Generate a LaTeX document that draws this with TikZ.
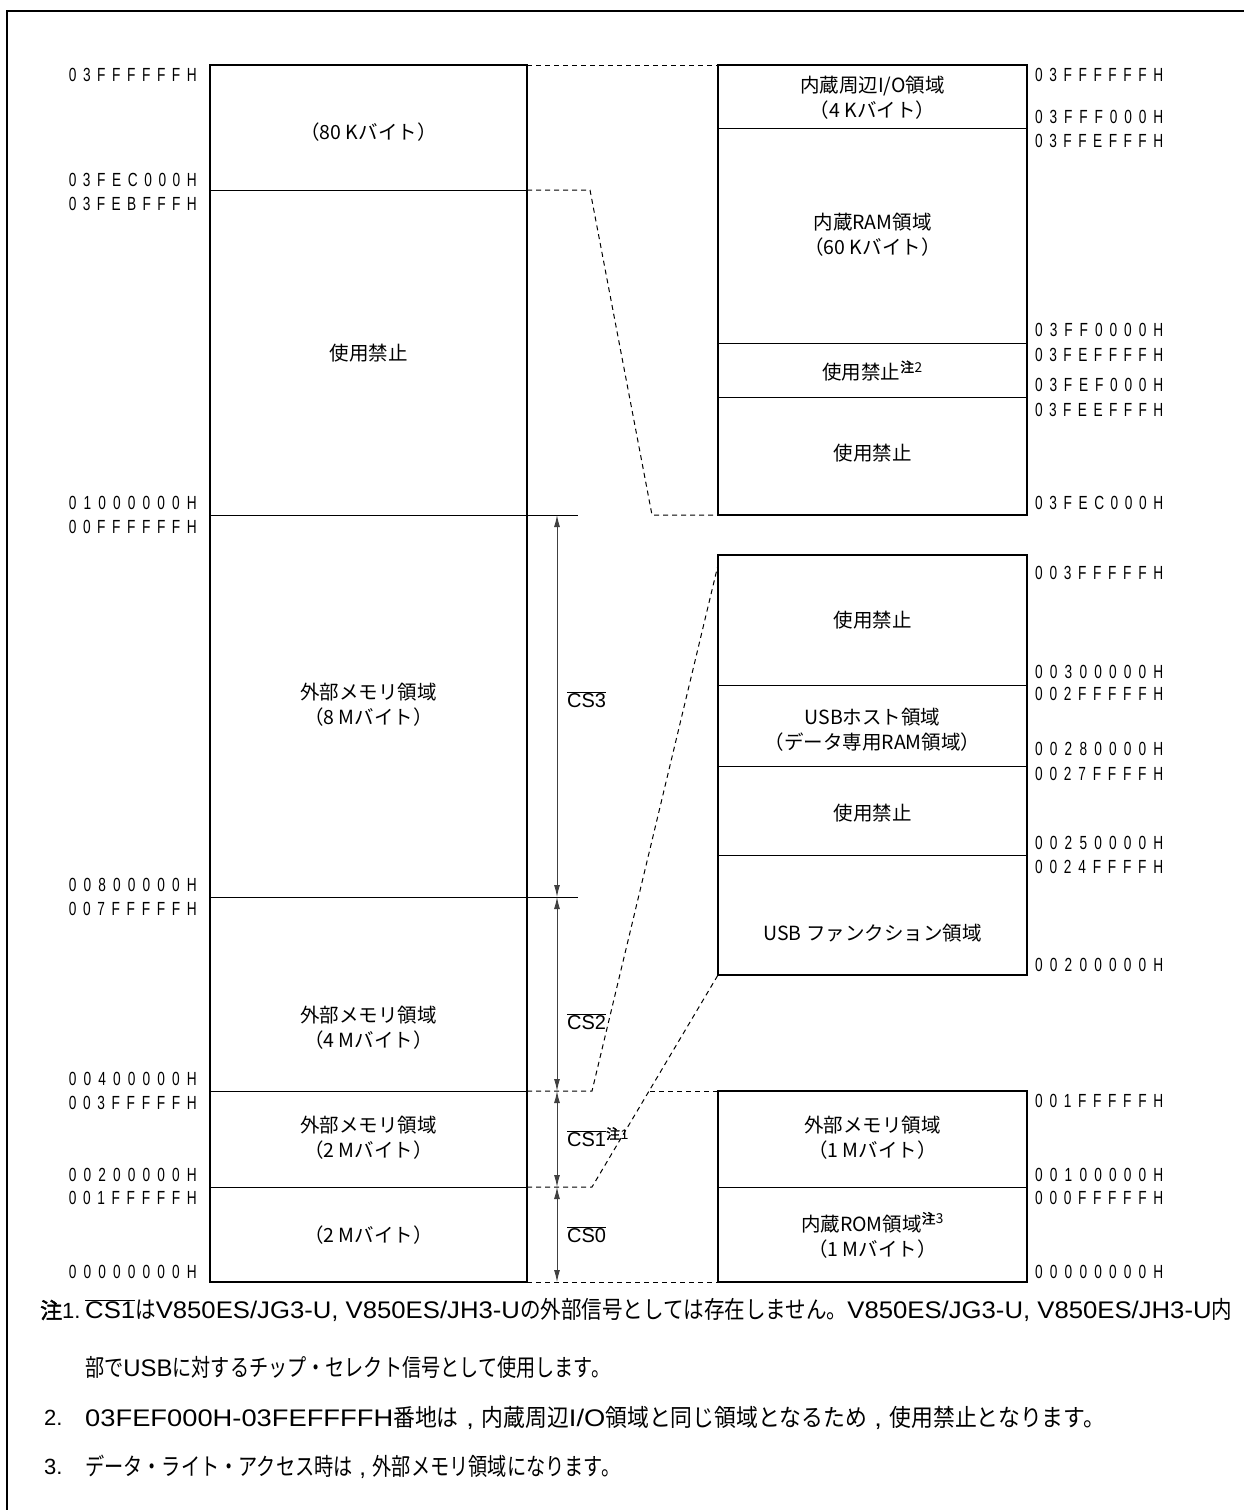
\documentclass[tikz,border=0pt]{standalone}
\usepackage{fontspec}
\usepackage{graphicx}
\setmainfont{Liberation Sans}
\newfontfamily\jp{Noto Sans CJK JP}
\newfontfamily\jpb[FakeBold=2]{Noto Sans CJK JP}
\newfontfamily\lat{Liberation Sans}
\usetikzlibrary{arrows.meta}
\makeatletter
\newcommand\hx[1]{\makebox[128pt][s]{\fontsize{19}{20}\selectfont\expandafter\hx@a#1\relax}}
\def\hx@a#1{\ifx#1\relax\else\scalebox{.72}[1]{#1}\expandafter\hx@b\fi}
\def\hx@b#1{\ifx#1\relax\else\hfill\scalebox{.72}[1]{#1}\expandafter\hx@b\fi}
\makeatother
\newcommand\ovl[1]{$\overline{\mbox{#1}}$}
\newcommand\chu[1]{\textsuperscript{\jpb 注}\textsuperscript{#1}}
% Latin run inside a condensed note line (undo the 0.8 squeeze)
\newcommand\lt[1]{\scalebox{1.25}[1]{\lat #1}}
\newcommand\noteline[2]{\resizebox{#1}{\height}{\scalebox{0.8}[1]{#2}}}
\tikzset{
  frame/.style={line width=1.6pt},
  mapbox/.style={line width=2.2pt},
  divider/.style={line width=0.9pt},
  dashc/.style={line width=1pt, dash pattern=on 5pt off 4pt},
  csarrow/.style={line width=0.9pt, black!75, {Latex[length=12pt,width=6pt]}-{Latex[length=12pt,width=6pt]}},
  hexl/.style={inner sep=0pt},
  boxt/.style={align=center, inner sep=0pt, font=\jp\fontsize{19.5}{25}\selectfont},
  cst/.style={anchor=west, inner sep=0pt, font=\fontsize{20}{22}\selectfont},
  notet/.style={anchor=west, inner sep=0pt, font=\jp\fontsize{24}{26}\selectfont},
  noteh/.style={anchor=west, inner sep=0pt, font=\lat\fontsize{22}{24}\selectfont},
}
\begin{document}
\begin{tikzpicture}[x=1pt,y=-1pt]
\useasboundingbox (0,0) rectangle (1244,1510);
% outer frame (top and left edges)
\coordinate (fa) at (7,1510);
\coordinate (fb) at (7,11);
\coordinate (fc) at (1244,11);
\draw[frame] (fa) -- (fb) -- (fc);

% ---------------- left map ----------------
\coordinate (Ltl) at (210,65);
\coordinate (Lbr) at (527,1282);
\draw[mapbox] (Ltl) rectangle (Lbr);
\foreach \y/\n in {190/a,515/b,897/c,1091/d,1187/e}{
  \coordinate (Ll\n) at (210,\y);
  \coordinate (Lr\n) at (527,\y);
}
\coordinate (Lxb) at (578,515);
\coordinate (Lxc) at (578,897);
\draw[divider] (Lla) -- (Lra);
\draw[divider] (Llb) -- (Lxb);
\draw[divider] (Llc) -- (Lxc);
\draw[divider] (Lld) -- (Lrd);
\draw[divider] (Lle) -- (Lre);

\node[boxt] (t80k) at (368.5,132) {（80 Kバイト）};
\node[boxt] (tkin) at (368.5,353) {使用禁止};
\node[boxt] (t8m) at (368.5,705) {外部メモリ領域\\（8 Mバイト）};
\node[boxt] (t4m) at (368.5,1028) {外部メモリ領域\\（4 Mバイト）};
\node[boxt] (t2m) at (368.5,1138) {外部メモリ領域\\（2 Mバイト）};
\node[boxt] (t2mb) at (368.5,1235) {（2 Mバイト）};

% left address labels
\foreach \y/\t in {75/03FFFFFFH,180/03FEC000H,204/03FEBFFFH,503/01000000H,527/00FFFFFFH,885/00800000H,909/007FFFFFH,1079/00400000H,1103/003FFFFFH,1175/00200000H,1198/001FFFFFH,1272/00000000H}{
  \node[hexl, anchor=east] (L\t) at (197,\y) {\hx{\t}};
}

% chip-select arrows
\coordinate (a0) at (557,515);
\coordinate (a1) at (557,897);
\coordinate (a2) at (557,1091);
\coordinate (a3) at (557,1187);
\coordinate (a4) at (557,1282);
\draw[csarrow] (a0) -- (a1);
\draw[csarrow] (a1) -- (a2);
\draw[csarrow] (a2) -- (a3);
\draw[csarrow] (a3) -- (a4);
\node[cst] (cs3) at (567,700) {\ovl{CS3}};
\node[cst] (cs2) at (567,1022) {\ovl{CS2}};
\node[cst] (cs1) at (567,1137) {\ovl{CS1}\chu{1}};
\node[cst] (cs0) at (567,1235) {\ovl{CS0}};

% ---------------- right maps ----------------
\coordinate (Atl) at (718,65);
\coordinate (Abr) at (1027,515);
\draw[mapbox] (Atl) rectangle (Abr);
\foreach \y/\n in {128/a,343/b,397/c}{
  \coordinate (Al\n) at (718,\y);
  \coordinate (Ar\n) at (1027,\y);
  \draw[divider] (Al\n) -- (Ar\n);
}
\node[boxt] (tio) at (872.5,98) {内蔵周辺I/O領域\\（4 Kバイト）};
\node[boxt] (tram) at (872.5,235) {内蔵RAM領域\\（60 Kバイト）};
\node[boxt] (tk2) at (872.5,371) {使用禁止\chu{2}};
\node[boxt] (tk3) at (872.5,453) {使用禁止};
\foreach \y/\t in {75/03FFFFFFH,117/03FFF000H,141/03FFEFFFH,330/03FF0000H,355/03FEFFFFH,385/03FEF000H,410/03FEEFFFH,503/03FEC000H}{
  \node[hexl, anchor=west] (A\t) at (1035,\y) {\hx{\t}};
}

\coordinate (Btl) at (718,555);
\coordinate (Bbr) at (1027,975);
\draw[mapbox] (Btl) rectangle (Bbr);
\foreach \y/\n in {685/a,766/b,855/c}{
  \coordinate (Bl\n) at (718,\y);
  \coordinate (Br\n) at (1027,\y);
  \draw[divider] (Bl\n) -- (Br\n);
}
\node[boxt] (tk4) at (872.5,620) {使用禁止};
\node[boxt] (tusbh) at (872.5,730) {USBホスト領域\\（データ専用RAM領域）};
\node[boxt] (tk5) at (872.5,813) {使用禁止};
\node[boxt] (tusbf) at (872.5,933) {USB ファンクション領域};
\foreach \y/\t in {573/003FFFFFH,672/00300000H,694/002FFFFFH,749/00280000H,774/0027FFFFH,843/00250000H,867/0024FFFFH,965/00200000H}{
  \node[hexl, anchor=west] (B\t) at (1035,\y) {\hx{\t}};
}

\coordinate (Ctl) at (718,1091);
\coordinate (Cbr) at (1027,1282);
\draw[mapbox] (Ctl) rectangle (Cbr);
\coordinate (Cla) at (718,1187);
\coordinate (Cra) at (1027,1187);
\draw[divider] (Cla) -- (Cra);
\node[boxt] (text1) at (872.5,1138) {外部メモリ領域\\（1 Mバイト）};
\node[boxt] (trom) at (872.5,1235) {内蔵ROM領域\chu{3}\\（1 Mバイト）};
\foreach \y/\t in {1101/001FFFFFH,1175/00100000H,1198/000FFFFFH,1272/00000000H}{
  \node[hexl, anchor=west] (C\t) at (1035,\y) {\hx{\t}};
}

% ---------------- dashed connectors ----------------
\coordinate (Lrt) at (527,65);
\coordinate (Bbl) at (718,975);
\coordinate (Abl) at (718,515);
\coordinate (Cbl) at (718,1282);
\coordinate (Lrb) at (527,1282);
\coordinate (d1) at (590,190);
\coordinate (d2) at (652,515);
\coordinate (d3) at (592,1091);
\coordinate (d4) at (718,565);
\coordinate (d5) at (592,1187);
\coordinate (d6) at (650,1091);
\draw[dashc] (Lrt) -- (Atl);
\draw[dashc] (Lra) -- (d1) -- (d2) -- (Abl);
\draw[dashc] (Lrd) -- (d3) -- (d4);
\draw[dashc] (Lre) -- (d5) -- (Bbl);
\draw[dashc] (d6) -- (Ctl);
\draw[dashc] (Lrb) -- (Cbl);

% ---------------- notes ----------------
\node[noteh] (n1h) at (40,1310) {{\jpb\fontsize{22}{24}\selectfont 注}1.};
\node[notet] (n1a) at (85,1310) {\noteline{1147pt}{\lt{\ovl{CS1}}は\lt{V850ES/JG3-U, V850ES/JH3-U}の外部信号としては存在しません。\lt{V850ES/JG3-U, V850ES/JH3-U}内}};
\node[notet] (n1b) at (85,1367) {\noteline{525pt}{部で\lt{USB}に対するチップ・セレクト信号として使用します。}};
\node[noteh] (n2h) at (44,1418) {2.};
\node[notet] (n2) at (85,1418) {\noteline{1020pt}{\lt{03FEF000H-03FEFFFFH}番地は\lt{ , }内蔵周辺\lt{I/O}領域と同じ領域となるため\lt{ , }使用禁止となります。}};
\node[noteh] (n3h) at (44,1467) {3.};
\node[notet] (n3) at (85,1467) {\noteline{535pt}{データ・ライト・アクセス時は\lt{ , }外部メモリ領域になります。}};
\end{tikzpicture}
\end{document}
